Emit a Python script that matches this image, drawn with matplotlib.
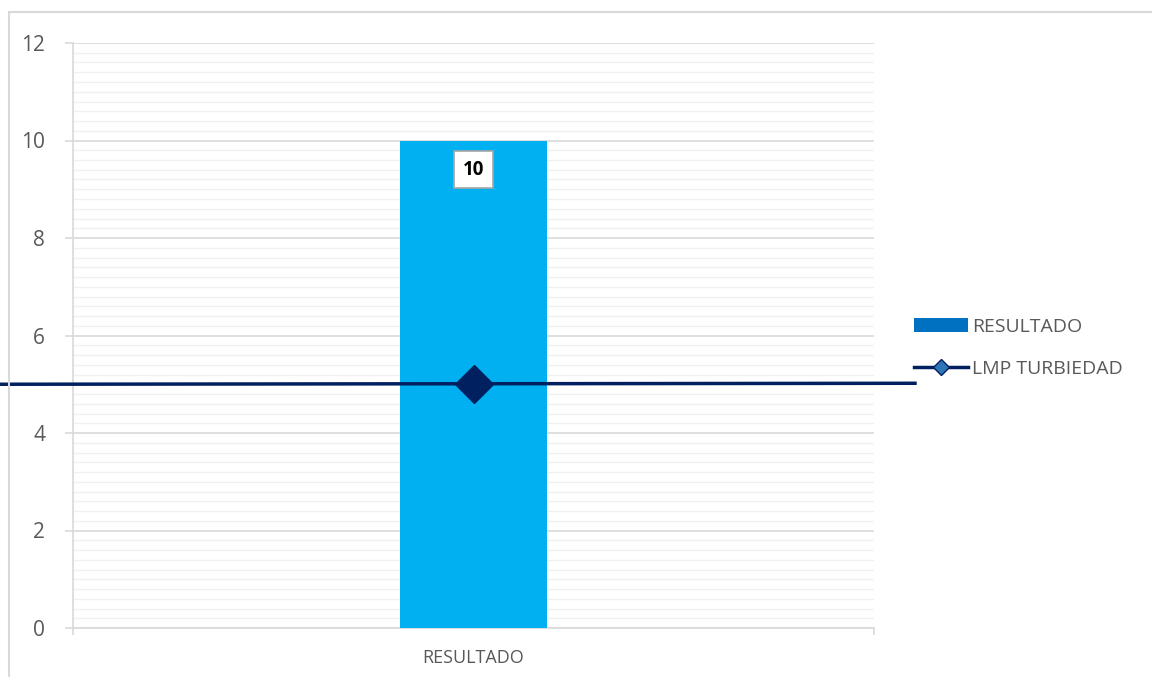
import matplotlib.pyplot as plt
from matplotlib.lines import Line2D
from matplotlib.patches import Patch, Rectangle
from matplotlib.ticker import MultipleLocator

# data
categories = ["RESULTADO"]
resultado = [10]
lmp_turbiedad = [5]

BAR_COLOR = "#00B0F0"
LINE_COLOR = "#002060"
GRID_MAJOR = "#D9D9D9"
GRID_MINOR = "#F0F0F0"
TEXT_COLOR = "#595959"

plt.rcParams["font.family"] = ["Open Sans", "DejaVu Sans"]

fig = plt.figure(figsize=(11.52, 6.77), dpi=100)
W, H = 1152, 677
ax = fig.add_axes([73 / W, 1 - 628 / H, (874 - 73) / W, (628 - 43) / H])

x = list(range(len(categories)))
ax.bar(x, resultado, width=0.184, color=BAR_COLOR, zorder=3)

# data label
for xi, v in zip(x, resultado):
    ax.text(xi, v - 0.6, str(v), ha="center", va="center", fontsize=13.5,
            fontweight="bold", color="black", zorder=5,
            bbox=dict(boxstyle="square,pad=0.45", fc="white", ec="#A6A6A6", lw=1.2))

# LMP line (runs across the whole chart, past the plot area)
ax.plot([-0.5 - 73 / 801, 0.5 + 41 / 801], [lmp_turbiedad[0], lmp_turbiedad[0] + 0.02],
        color=LINE_COLOR, lw=2.5, clip_on=False, zorder=4)
ax.plot(x, lmp_turbiedad, marker="D", markersize=19, color=LINE_COLOR,
        markerfacecolor=LINE_COLOR, markeredgecolor=LINE_COLOR, ls="none",
        clip_on=False, zorder=6)

ax.set_xlim(-0.5, 0.5)
ax.set_ylim(0, 12)
ax.yaxis.set_major_locator(MultipleLocator(2))
ax.yaxis.set_minor_locator(MultipleLocator(0.2))
ax.grid(axis="y", which="major", color=GRID_MAJOR, lw=1.2, zorder=0)
ax.grid(axis="y", which="minor", color=GRID_MINOR, lw=1.0, zorder=0)
ax.set_axisbelow(True)

ax.set_xticks([-0.5, 0.5])
ax.set_xticklabels(["", ""])
ax.set_xticks(x, minor=True)
ax.set_xticklabels(categories, minor=True)
ax.tick_params(axis="x", which="major", length=5, color=GRID_MAJOR, width=1.2)
ax.tick_params(axis="x", which="minor", length=0, pad=15, labelsize=13,
               labelcolor=TEXT_COLOR)
ax.tick_params(axis="y", which="major", length=6, color=GRID_MAJOR, width=1.2,
               pad=14, labelsize=15, labelcolor=TEXT_COLOR)
ax.tick_params(axis="y", which="minor", length=0)

for s in ["top", "right"]:
    ax.spines[s].set_visible(False)
ax.spines["left"].set_color(GRID_MAJOR)
ax.spines["bottom"].set_color(GRID_MAJOR)
ax.spines["left"].set_linewidth(1.2)
ax.spines["bottom"].set_linewidth(1.2)

# chart border
fig.patches.append(Rectangle((9 / W, -0.05), 1.1, 1 - 12 / H + 0.05,
                             transform=fig.transFigure, fill=False,
                             ec="#D9D9D9", lw=1.5))

handles = [Patch(facecolor="#0070C0", edgecolor="none", label="RESULTADO"),
           Line2D([0], [0], color=LINE_COLOR, lw=2.5, marker="D", markersize=8,
                  markerfacecolor="#2E75B6", markeredgecolor=LINE_COLOR,
                  label="LMP TURBIEDAD")]
leg = fig.legend(handles=handles, loc="center left",
                 bbox_to_anchor=(914 / W, 1 - 348 / H), frameon=False,
                 borderpad=0, borderaxespad=0,
                 fontsize=14, labelcolor=TEXT_COLOR, handlelength=2.8,
                 handleheight=0.75, handletextpad=0.2, labelspacing=1.25)

fig.savefig("out.png", dpi=100)
